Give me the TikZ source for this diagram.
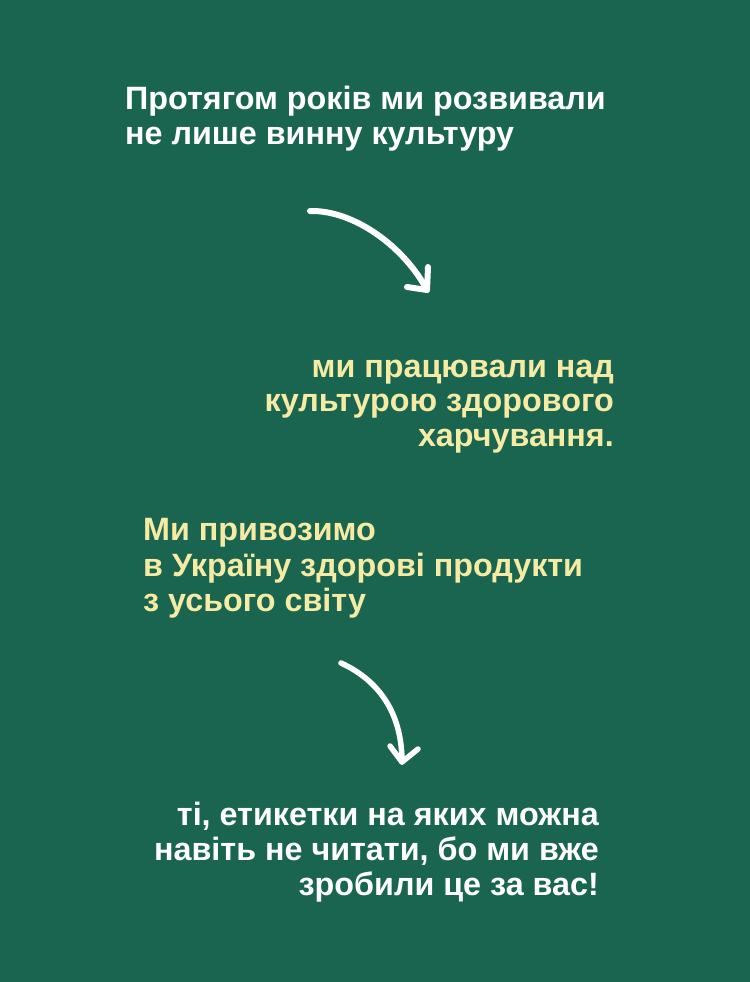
\documentclass[tikz,border=0pt]{standalone}
\usepackage{fontspec}
\setmainfont{Liberation Sans}
\definecolor{bg}{HTML}{1A654F}
\definecolor{cream}{HTML}{F6EBA5}
\begin{document}
\begin{tikzpicture}[x=1bp,y=-1bp,
  txt/.style={inner sep=0pt, font=\fontsize{32.3bp}{36bp}\selectfont\bfseries},
  wl/.style={txt, text=white, anchor=base west},
  we/.style={txt, text=white, anchor=base east},
  cl/.style={txt, text=cream, anchor=base west},
  ce/.style={txt, text=cream, anchor=base east},
  arr/.style={draw=white, line width=6bp, line cap=round, line join=round}]
\fill[bg] (0,0) rectangle (750,982);
\useasboundingbox (0,0) rectangle (750,982);
\node[wl] (a1) at (125,109) {Протягом років ми розвивали};
\node[wl] (a2) at (125,144) {не лише винну культуру};
\node[ce] (b1) at (614,377) {ми працювали над};
\node[ce] (b2) at (614,411) {культурою здорового};
\node[ce] (b3) at (614,446) {харчування.};
\node[cl] (c1) at (143,540) {Ми привозимо};
\node[cl] (c2) at (143,576) {в Україну здорові продукти};
\node[cl] (c3) at (143,611) {з усього світу};
\node[we] (d1) at (599,825) {ті, етикетки на яких можна};
\node[we] (d2) at (599,860) {навіть не читати, бо ми вже};
\node[we] (d3) at (599,895) {зробили це за вас!};
\coordinate (s1) at (310,211);
\coordinate (e1) at (427,290);
\coordinate (h1a) at (407,287);
\coordinate (h1b) at (428,267);
\draw[arr] (s1) .. controls (355,210) and (405,248) .. (e1);
\draw[arr] (h1a) -- (e1) -- (h1b);
\coordinate (s2) at (341,663);
\coordinate (e2) at (402,762);
\coordinate (h2a) at (390,746);
\coordinate (h2b) at (418,749);
\draw[arr, line width=5.5bp] (s2) .. controls (378,680) and (402,712) .. (e2);
\draw[arr, line width=5.5bp] (h2a) -- (e2) -- (h2b);
\end{tikzpicture}
\end{document}
